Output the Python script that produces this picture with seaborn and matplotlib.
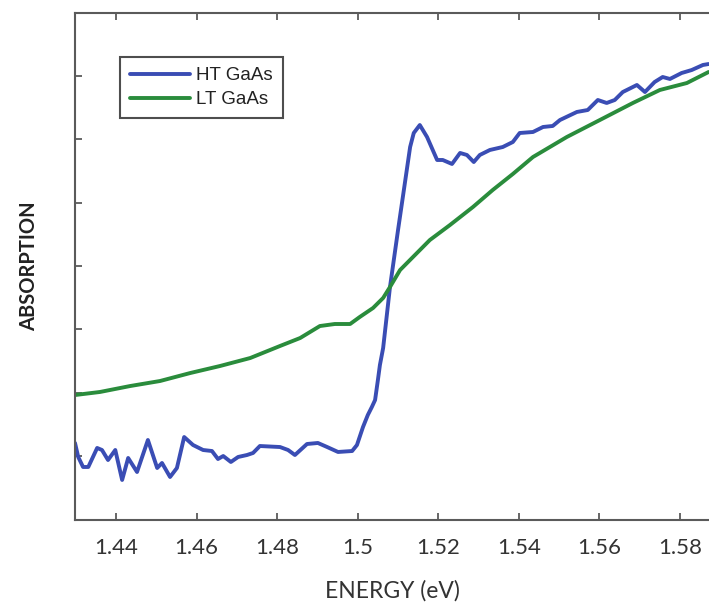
import matplotlib
matplotlib.use("Agg")
import matplotlib.pyplot as plt
import seaborn as sns
import pandas as pd

# ---- data ----
lt_energy = [1.4298, 1.4360, 1.4435, 1.4509, 1.4584, 1.4658, 1.4733, 1.4807, 1.4857,
             1.4906, 1.4943, 1.4981, 1.5005, 1.5038, 1.5063, 1.5080, 1.5105, 1.5147,
             1.5179, 1.5229, 1.5286, 1.5335, 1.5385, 1.5435, 1.5519, 1.5601, 1.5683,
             1.5750, 1.5817, 1.5871]
lt_absorption = [1.965, 2.013, 2.107, 2.186, 2.312, 2.423, 2.549, 2.739, 2.865,
                 3.054, 3.086, 3.086, 3.197, 3.339, 3.497, 3.670, 3.938, 4.207,
                 4.412, 4.649, 4.933, 5.201, 5.454, 5.722, 6.038, 6.306, 6.575,
                 6.780, 6.890, 7.064]

ht_energy = [1.4298, 1.4306, 1.4318, 1.4331, 1.4353, 1.4365, 1.4380, 1.4398, 1.4415,
             1.4430, 1.4452, 1.4479, 1.4502, 1.4514, 1.4534, 1.4551, 1.4569, 1.4591,
             1.4616, 1.4638, 1.4653, 1.4666, 1.4685, 1.4703, 1.4725, 1.4740, 1.4757,
             1.4807, 1.4827, 1.4844, 1.4874, 1.4901, 1.4924, 1.4951, 1.4986, 1.4998,
             1.5013, 1.5025, 1.5035, 1.5043, 1.5050, 1.5055, 1.5063, 1.5080, 1.5100,
             1.5117, 1.5130, 1.5139, 1.5154, 1.5172, 1.5197, 1.5211, 1.5234, 1.5254,
             1.5271, 1.5288, 1.5303, 1.5328, 1.5360, 1.5385, 1.5402, 1.5435, 1.5460,
             1.5484, 1.5502, 1.5544, 1.5571, 1.5596, 1.5618, 1.5638, 1.5658, 1.5693,
             1.5713, 1.5737, 1.5757, 1.5775, 1.5804, 1.5829, 1.5857, 1.5871]
ht_absorption = [1.208, 0.987, 0.829, 0.829, 1.129, 1.097, 0.939, 1.097, 0.624,
                 0.971, 0.750, 1.255, 0.813, 0.892, 0.671, 0.813, 1.302, 1.176,
                 1.097, 1.081, 0.955, 1.002, 0.908, 0.987, 1.018, 1.050, 1.160,
                 1.144, 1.097, 1.018, 1.192, 1.208, 1.144, 1.066, 1.081, 1.176,
                 1.460, 1.650, 1.776, 1.886, 2.202, 2.439, 2.707, 3.670, 4.570,
                 5.312, 5.880, 6.101, 6.227, 6.038, 5.675, 5.675, 5.612, 5.786,
                 5.754, 5.643, 5.754, 5.833, 5.880, 5.959, 6.101, 6.117, 6.196,
                 6.212, 6.306, 6.433, 6.464, 6.622, 6.575, 6.622, 6.748, 6.859,
                 6.748, 6.906, 6.985, 6.954, 7.048, 7.095, 7.175, 7.190]

x_ticks = [1.44, 1.46, 1.48, 1.50, 1.52, 1.54, 1.56, 1.58]
x_tick_labels = ["1.44", "1.46", "1.48", "1.5", "1.52", "1.54", "1.56", "1.58"]
y_ticks = [1, 2, 3, 4, 5, 6, 7]

series_names = ["HT GaAs", "LT GaAs"]
colors = ["#3a4db4", "#2a8c3c"]

# ---- plot ----
sns.set_theme(style="white")
plt.rcParams['font.family'] = ['Lato', 'DejaVu Sans']

fig = plt.figure(figsize=(7.09, 6.09), dpi=100)
W, H = 709, 609
left, right = 75, 709
top, bottom = 12.7, 519.5
ax = fig.add_axes([left / W, 1 - bottom / H, (right - left) / W, (bottom - top) / H])

ht = pd.DataFrame({"energy": ht_energy, "absorption": ht_absorption})
lt = pd.DataFrame({"energy": lt_energy, "absorption": lt_absorption})
sns.lineplot(data=ht, x="energy", y="absorption", ax=ax, color=colors[0],
             linewidth=2.8, label=series_names[0], sort=False)
sns.lineplot(data=lt, x="energy", y="absorption", ax=ax, color=colors[1],
             linewidth=2.8, label=series_names[1], sort=False)

ax.set_xlim(1.4298, 1.5872)
ax.set_ylim(0, 8)
ax.set_xticks(x_ticks)
ax.set_xticklabels(x_tick_labels)
ax.set_yticks(y_ticks)
ax.set_yticklabels([])

spine_color = "#5a5a5a"
for s in ["left", "bottom", "top"]:
    ax.spines[s].set_visible(True)
    ax.spines[s].set_color(spine_color)
    ax.spines[s].set_linewidth(1.5)
ax.spines["right"].set_visible(False)

ax.tick_params(axis="x", which="both", direction="in", top=True, bottom=True,
               length=5, width=1.3, color=spine_color, labelsize=16,
               labelcolor="#333333", pad=13)
ax.tick_params(axis="y", which="both", direction="in", left=True, right=False,
               length=5, width=1.3, color=spine_color)

ax.set_xlabel("ENERGY (eV)", fontsize=16.5, color="#333333", labelpad=16)
ax.set_ylabel("ABSORPTION", fontsize=14.5, color="#222222", labelpad=22,
              fontweight="bold")

leg = ax.legend(loc="upper left", bbox_to_anchor=(0.071, 0.9126), borderaxespad=0,
                frameon=True, fancybox=False, edgecolor="#222222", fontsize=13.5,
                handlelength=3.2, handletextpad=0.3, borderpad=0.55,
                labelspacing=0.35)
leg.get_frame().set_linewidth(1.5)
for t in leg.get_texts():
    t.set_family(['Liberation Sans', 'DejaVu Sans'])
    t.set_color("#222222")

fig.savefig("out.png", dpi=100)
